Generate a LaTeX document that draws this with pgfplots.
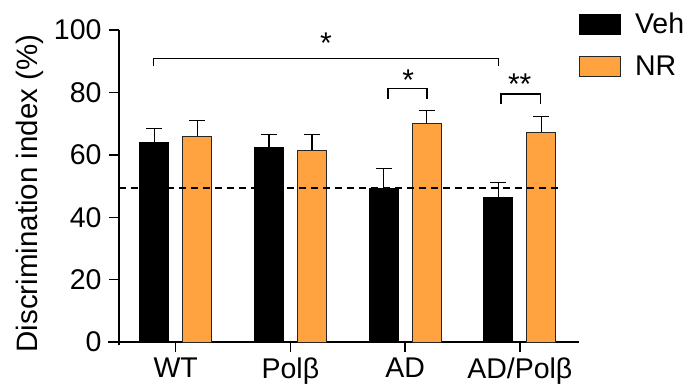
\documentclass[border=0pt]{standalone}
\usepackage{fontspec}
\setmainfont{Liberation Sans}
\usepackage{pgfplots}
\pgfplotsset{compat=1.18}
\definecolor{nrorange}{RGB}{255,162,64}
\begin{document}
\begin{tikzpicture}
\begin{axis}[
  scale only axis, width=460pt, height=312pt,
  xmin=-0.494, xmax=3.516, ymin=0, ymax=100,
  axis x line=bottom, axis y line=left,
  axis line style={-, line width=1.4pt},
  x axis line style={shorten <=-11pt},
  y axis line style={shorten <=-3pt},
  xtick={0,1,2,3}, xticklabels={WT,Polβ,AD,AD/Polβ},
  ytick={0,20,40,60,80,100},
  tick align=outside, major tick length=10pt,
  tick style={line width=1.4pt, black},
  /pgf/number format/assume math mode=true,
  tick label style={font=\fontsize{28.5}{31}\selectfont},
  yticklabel style={xshift=-4pt},
  xticklabel style={yshift=-2pt},
  ylabel={Discrimination index (\%)},
  ylabel style={at={(axis description cs:-0.193,0.476)}, anchor=center, font=\fontsize{29.5}{32}\selectfont},
  ybar, bar width=29pt,
  legend style={draw=none, fill=none, at={(axis description cs:1.0,1.0545)}, anchor=north west,
    inner sep=0pt, outer sep=0pt, row sep=21pt, column sep=14pt,
    nodes={inner sep=0pt}, font=\fontsize{28.5}{32}\selectfont},
  legend cell align=left,
  legend image code/.code={\draw[#1, line width=1pt] (0pt,-10pt) rectangle (41pt,10pt);},
  clip=false,
]
\addplot[fill=black, draw=black, line width=1pt, bar shift=-21.5pt,
  error bars/.cd, y dir=plus, y explicit,
  error bar style={line width=1.3pt, black},
  error mark options={rotate=90, mark size=8pt, line width=1.3pt, black}]
  coordinates {(0,64.0) +- (0,4.4) (1,62.5) +- (0,4.0) (2,49.3) +- (0,6.3) (3,46.3) +- (0,4.8)};
\addlegendentry{Veh}
\addplot[fill=nrorange, draw=black!85, line width=1pt, bar shift=21.5pt,
  error bars/.cd, y dir=plus, y explicit,
  error bar style={line width=1.3pt, black},
  error mark options={rotate=90, mark size=8pt, line width=1.3pt, black}]
  coordinates {(0,66.0) +- (0,5.0) (1,61.5) +- (0,5.0) (2,70.0) +- (0,4.2) (3,67.3) +- (0,4.9)};
\addlegendentry{NR}
\addplot[sharp plot, forget plot, black, line width=1.4pt, dash pattern=on 7pt off 5pt]
  coordinates {(-0.494,49.3) (3.374,49.3)};
% significance brackets
\draw[line width=1.3pt] (axis cs:-0.195,88.4) -- (axis cs:-0.195,90.8) -- (axis cs:2.817,90.8) -- (axis cs:2.817,88.4);
\draw[line width=1.3pt] (axis cs:1.85,77.9) -- (axis cs:1.85,81.3) -- (axis cs:2.19,81.3) -- (axis cs:2.19,77.9);
\draw[line width=1.3pt] (axis cs:2.836,76.3) -- (axis cs:2.836,79.5) -- (axis cs:3.182,79.5) -- (axis cs:3.182,76.3);
\node[anchor=base, inner sep=0pt, font=\fontsize{30}{32}\selectfont] at ([yshift=-17pt]axis cs:1.31,97.9) {*};
\node[anchor=base, inner sep=0pt, font=\fontsize{30}{32}\selectfont] at ([yshift=-17pt]axis cs:2.028,85.9) {*};
\node[anchor=base, inner sep=0pt, font=\fontsize{30}{32}\selectfont] at ([yshift=-17pt]axis cs:2.999,84.8) {**};
\end{axis}
\pgfresetboundingbox
\path[use as bounding box] ([shift={(-119pt,-47pt)}]current axis.south west) rectangle ([shift={(113pt,30pt)}]current axis.north east);
\end{tikzpicture}
\end{document}
